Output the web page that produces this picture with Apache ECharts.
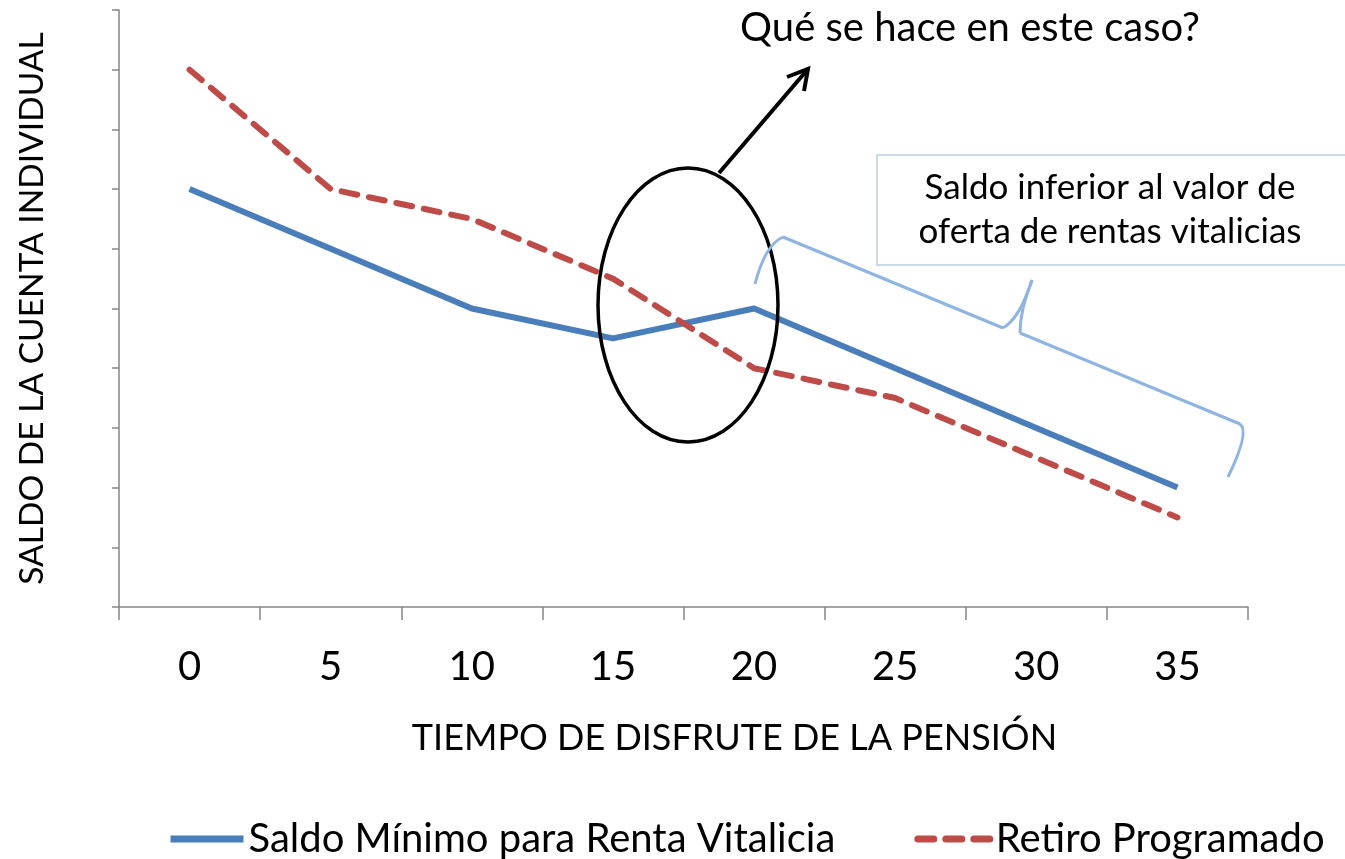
<!DOCTYPE html>
<html lang="es">
<head>
    <meta charset="UTF-8">
    <title>Saldo vs Retiro Programado</title>
    <style type="text/css">
        *{ margin: 0; padding: 0; }
        #main{ width: 1345px; height: 859px; background: #fff; }
    </style>
</head>
<body>
    <div id="main"></div>
    <script src="https://cdn.jsdelivr.net/npm/echarts@6/dist/echarts.min.js"></script>
    <script type="text/javascript">
        // datos
        var categorias = ['0', '5', '10', '15', '20', '25', '30', '35'];
        var saldoMinimo = [7, 6, 5, 4.5, 5, 4, 3, 2];
        var retiroProgramado = [9, 7, 6.5, 5.5, 4, 3.5, 2.5, 1.5];

        var fuente = 'Lato';
        var gris = '#868686';
        var azul = '#4A7EBB';
        var rojo = '#BE4B48';
        var llave = '#8EB4E3';

        var myChart = echarts.init(document.getElementById('main'));

        var option = {
            animation: false,
            textStyle: { fontFamily: fuente, color: '#000' },
            grid: { left: 119, top: 10, width: 1129, height: 597, containLabel: false },
            xAxis: {
                type: 'category',
                data: categorias,
                name: 'TIEMPO DE DISFRUTE DE LA PENSIÓN',
                nameLocation: 'middle',
                nameGap: 113,
                nameTextStyle: { fontSize: 36, color: '#000', fontFamily: fuente, padding: [0, 0, 0, 102] },
                axisLine: { lineStyle: { color: gris, width: 1.5 } },
                axisTick: { show: true, length: 13, lineStyle: { color: gris, width: 1.5 } },
                axisLabel: { fontSize: 40, color: '#000', margin: 40, fontFamily: fuente }
            },
            yAxis: {
                type: 'value',
                min: 0,
                max: 10,
                interval: 1,
                name: 'SALDO DE LA CUENTA INDIVIDUAL',
                nameLocation: 'middle',
                nameGap: 70,
                nameTextStyle: { fontSize: 33.5, color: '#000', fontFamily: fuente },
                axisLine: { show: true, lineStyle: { color: gris, width: 1.5 } },
                axisTick: { show: true, length: 7, lineStyle: { color: gris, width: 1.5 } },
                axisLabel: { show: false },
                splitLine: { show: false }
            },
            legend: {
                top: 814,
                left: 162,
                itemWidth: 73,
                itemHeight: 10,
                itemGap: 79,
                itemStyle: { opacity: 0 },
                lineStyle: { width: 7 },
                textStyle: { fontSize: 40, color: '#000', fontFamily: fuente },
                data: ['Saldo Mínimo para Renta Vitalicia', 'Retiro Programado']
            },
            series: [
                {
                    name: 'Saldo Mínimo para Renta Vitalicia',
                    type: 'line',
                    data: saldoMinimo,
                    symbol: 'none',
                    color: azul,
                    lineStyle: { color: azul, width: 6, join: 'round' }
                },
                {
                    name: 'Retiro Programado',
                    type: 'line',
                    data: retiroProgramado,
                    symbol: 'none',
                    color: rojo,
                    lineStyle: { color: rojo, width: 6, type: [16, 12], cap: 'round', join: 'round' }
                }
            ],
            graphic: [
                // texto de la pregunta
                {
                    type: 'text', x: 970, y: 28, z: 100,
                    style: {
                        text: 'Qué se hace en este caso?', fontSize: 40, fontFamily: fuente, fill: '#000',
                        align: 'center', verticalAlign: 'middle'
                    }
                },
                // flecha
                {
                    type: 'line', z: 100,
                    shape: { x1: 719, y1: 173, x2: 808, y2: 69 },
                    style: { stroke: '#000', lineWidth: 4 }
                },
                {
                    type: 'polyline', z: 100,
                    shape: { points: [[787, 77], [808, 69], [804, 91]] },
                    style: { stroke: '#000', lineWidth: 4, fill: null, lineJoin: 'miter' }
                },
                // elipse
                {
                    type: 'ellipse', z: 100,
                    shape: { cx: 688, cy: 305, rx: 90, ry: 137 },
                    style: { stroke: '#000', lineWidth: 3.5, fill: null }
                },
                // cuadro de texto
                {
                    type: 'rect', z: 100,
                    shape: { x: 877, y: 155, width: 470, height: 110 },
                    style: { stroke: '#B9CDE5', lineWidth: 1.5, fill: '#fff' }
                },
                {
                    type: 'text', z: 101, x: 1110, y: 210,
                    style: {
                        text: 'Saldo inferior al valor de\noferta de rentas vitalicias',
                        fontSize: 35, lineHeight: 44, fontFamily: fuente, fill: '#000',
                        align: 'center', verticalAlign: 'middle'
                    }
                },
                // llave
                {
                    type: 'bezierCurve', z: 100,
                    shape: { x1: 755, y1: 284, cpx1: 765, cpy1: 245, x2: 783, y2: 237 },
                    style: { stroke: llave, lineWidth: 3, fill: null }
                },
                {
                    type: 'line', z: 100,
                    shape: { x1: 783, y1: 237, x2: 1003, y2: 328 },
                    style: { stroke: llave, lineWidth: 3 }
                },
                {
                    type: 'bezierCurve', z: 100,
                    shape: { x1: 1003, y1: 328, cpx1: 1020, cpy1: 318, x2: 1032, y2: 280 },
                    style: { stroke: llave, lineWidth: 3, fill: null }
                },
                {
                    type: 'bezierCurve', z: 100,
                    shape: { x1: 1032, y1: 280, cpx1: 1020, cpy1: 310, x2: 1020, y2: 333 },
                    style: { stroke: llave, lineWidth: 3, fill: null }
                },
                {
                    type: 'line', z: 100,
                    shape: { x1: 1020, y1: 333, x2: 1240, y2: 424 },
                    style: { stroke: llave, lineWidth: 3 }
                },
                {
                    type: 'bezierCurve', z: 100,
                    shape: { x1: 1240, y1: 424, cpx1: 1250, cpy1: 432, x2: 1228, y2: 477 },
                    style: { stroke: llave, lineWidth: 3, fill: null }
                }
            ]
        };

        myChart.setOption(option);
    </script>
</body>
</html>
